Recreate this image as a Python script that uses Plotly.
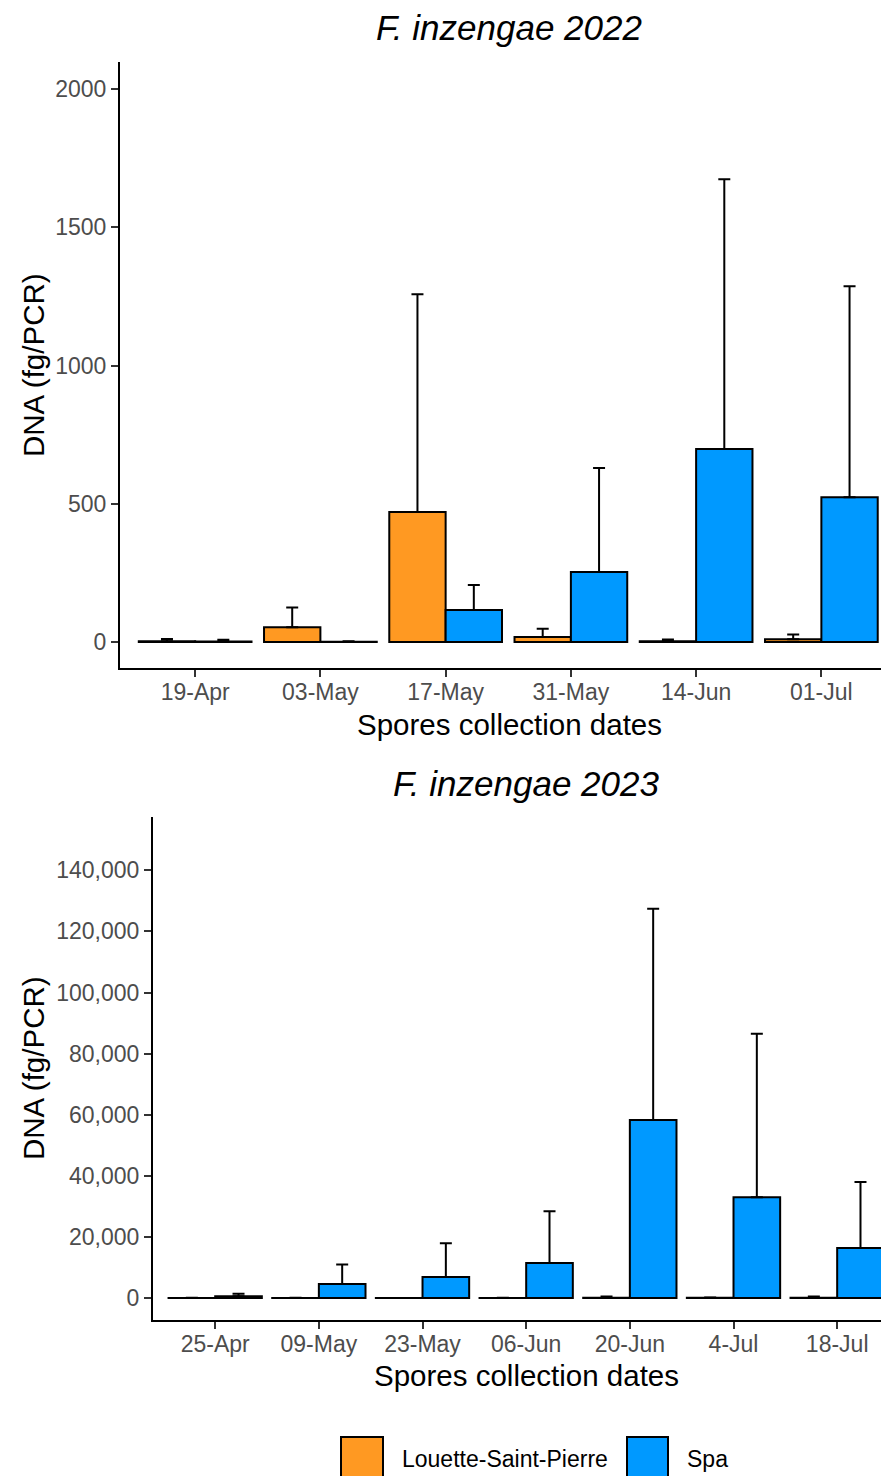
import plotly.graph_objects as go

# ---------------- data ----------------
dates22 = ["19-Apr", "03-May", "17-May", "31-May", "14-Jun", "01-Jul"]
louette22 = [3, 53, 470, 18, 3, 10]
louette22_sd = [8, 72, 788, 30, 6, 17]
spa22 = [2, 1, 116, 253, 698, 524]
spa22_sd = [6, 2, 90, 376, 976, 763]

dates23 = ["25-Apr", "09-May", "23-May", "06-Jun", "20-Jun", "4-Jul", "18-Jul"]
louette23 = [30, 30, 20, 30, 60, 60, 80]
louette23_sd = [40, 30, 20, 30, 400, 80, 400]
spa23 = [600, 4600, 6900, 11450, 58250, 33000, 16350]
spa23_sd = [800, 6400, 11000, 16950, 69150, 53500, 21600]

site_names = ["Louette-Saint-Pierre", "Spa"]
ticks22 = [0, 500, 1000, 1500, 2000]
ticks23 = [0, 20000, 40000, 60000, 80000, 100000, 120000, 140000]

ORANGE = "#FF9922"
BLUE = "#0099FF"
FONT = "Liberation Sans, Arial, sans-serif"
OFF = 8                     # page body margin in the browser
W, H = 889 - OFF, 1476 - OFF


def px_x(p):
    return (p - OFF) / W


def px_y(p):
    return 1 - (p - OFF) / H


def bar(x, y, sd, color, name, xa, ya):
    return go.Bar(
        x=x, y=y, name=name, xaxis=xa, yaxis=ya,
        marker=dict(color=color, line=dict(color="black", width=2)),
        error_y=dict(type="data", symmetric=False, array=sd,
                     arrayminus=[0] * len(sd), color="black",
                     thickness=2, width=6),
        showlegend=False,
    )


fig = go.Figure()
fig.add_trace(bar(dates22, louette22, louette22_sd, ORANGE, site_names[0], "x", "y"))
fig.add_trace(bar(dates22, spa22, spa22_sd, BLUE, site_names[1], "x", "y"))
fig.add_trace(bar(dates23, louette23, louette23_sd, ORANGE, site_names[0], "x2", "y2"))
fig.add_trace(bar(dates23, spa23, spa23_sd, BLUE, site_names[1], "x2", "y2"))

axis_common = dict(
    showline=True, linecolor="black", linewidth=2,
    ticks="outside", ticklen=7, tickwidth=2, tickcolor="#333333",
    tickfont=dict(family=FONT, size=23, color="#4D4D4D"),
    showgrid=False, zeroline=False,
)

fig.update_layout(
    width=W, height=H,
    margin=dict(l=0, r=0, t=0, b=0),
    plot_bgcolor="white", paper_bgcolor="white",
    barmode="group", bargap=0.1, bargroupgap=0,
    xaxis=dict(domain=[px_x(120), 1], anchor="y", range=[-0.6, 5.54],
               type="category", ticklabelstandoff=-5, **axis_common),
    yaxis=dict(domain=[px_y(668), px_y(62)], anchor="x", range=[-94, 2098],
               tickvals=ticks22, **axis_common),
    xaxis2=dict(domain=[px_x(153), 1], anchor="y2", range=[-0.6, 6.5],
                type="category", ticklabelstandoff=-5, **axis_common),
    yaxis2=dict(domain=[px_y(1320), px_y(817)], anchor="x2", range=[-7200, 157450],
                tickvals=ticks23, tickformat=",", **axis_common),
    showlegend=False,
)

ann = []
# titles
ann.append(dict(text="<i>F. inzengae 2022</i>", x=px_x(509), y=px_y(28),
                font=dict(family=FONT, size=35, color="black")))
ann.append(dict(text="<i>F. inzengae 2023</i>", x=px_x(526), y=px_y(783),
                font=dict(family=FONT, size=35, color="black")))
# x axis titles
ann.append(dict(text="Spores collection dates", x=px_x(509), y=px_y(724),
                font=dict(family=FONT, size=29.5, color="black")))
ann.append(dict(text="Spores collection dates", x=px_x(526), y=px_y(1375),
                font=dict(family=FONT, size=29.5, color="black")))
# y axis titles
ann.append(dict(text="DNA (fg/PCR)", x=px_x(33), y=px_y(365), textangle=-90,
                font=dict(family=FONT, size=29.5, color="black")))
ann.append(dict(text="DNA (fg/PCR)", x=px_x(33), y=px_y(1068), textangle=-90,
                font=dict(family=FONT, size=29.5, color="black")))
# legend labels
ann.append(dict(text=site_names[0], x=px_x(400), y=px_y(1459), xanchor="left",
                font=dict(family=FONT, size=23, color="black")))
ann.append(dict(text=site_names[1], x=px_x(685), y=px_y(1459), xanchor="left",
                font=dict(family=FONT, size=23, color="black")))
for a in ann:
    a.update(xref="paper", yref="paper", showarrow=False)
    a.setdefault("xanchor", "center")
    a.setdefault("yanchor", "middle")
fig.update_layout(annotations=ann)

# legend keys
shapes = []
for x0, x1, c in [(341, 383, ORANGE), (627, 668, BLUE)]:
    shapes.append(dict(type="rect", xref="paper", yref="paper",
                       x0=px_x(x0), x1=px_x(x1), y0=px_y(1480), y1=px_y(1437),
                       fillcolor=c, line=dict(color="black", width=2)))
fig.update_layout(shapes=shapes)

fig.write_html("out.html")
